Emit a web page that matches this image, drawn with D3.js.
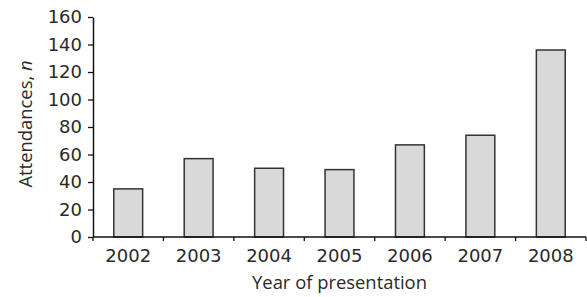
<!DOCTYPE html>
<html>
<head>
<meta charset="utf-8">
<script src="https://cdn.jsdelivr.net/npm/d3@7"></script>
<style>
  body { margin: 0; background: #fff; }
  text { font-family: 'Open Sans', sans-serif; fill: #2a2a2a; }
  .num { font-family: 'DejaVu Sans', sans-serif; }
</style>
</head>
<body>
<div id="chart"></div>
<script>
const years = ['2002', '2003', '2004', '2005', '2006', '2007', '2008'];
const attendances = [35, 57, 50, 49, 67, 74, 136];
const yTicks = [0, 20, 40, 60, 80, 100, 120, 140, 160];

const W = 587, H = 297;
const margin = { top: 17, right: 1, bottom: 60, left: 93 },
  width = W - margin.left - margin.right,
  height = H - margin.top - margin.bottom;

const svg = d3.select('#chart').append('svg')
  .attr('width', W)
  .attr('height', H);

const chart = svg.append('g')
  .attr('transform', 'translate(' + margin.left + ',' + margin.top + ')');

const x = d3.scaleBand().domain(years).range([0, width]);
const y = d3.scaleLinear().domain([0, 160]).range([height, 0]);
const barW = x.bandwidth() * 0.41;

// bars
chart.selectAll('.bar')
  .data(years)
  .enter().append('rect')
    .attr('class', 'bar')
    .attr('x', (d) => x(d) + (x.bandwidth() - barW) / 2)
    .attr('y', (d, i) => y(attendances[i]))
    .attr('width', barW)
    .attr('height', (d, i) => height - y(attendances[i]))
    .attr('fill', '#d9d9d9')
    .attr('stroke', '#333')
    .attr('stroke-width', 1.5);

// y axis
const yAxis = chart.append('g')
  .call(d3.axisLeft(y).tickValues(yTicks).tickSize(5).tickSizeOuter(0).tickPadding(6));
yAxis.select('.domain').attr('stroke', '#111').attr('stroke-width', 1.5);
yAxis.selectAll('.tick line').attr('stroke', '#111').attr('stroke-width', 1.3);
yAxis.selectAll('text')
  .attr('class', 'num')
  .style('font-size', '18px')
  .attr('fill', '#2a2a2a');

// x axis: ticks sit between the categories
const xAxis = chart.append('g')
  .attr('transform', 'translate(0,' + height + ')');
xAxis.append('line')
  .attr('x1', 0).attr('x2', width)
  .attr('stroke', '#111').attr('stroke-width', 1.5);
xAxis.selectAll('.sep')
  .data(years.concat(['end']))
  .enter().append('line')
    .attr('class', 'sep')
    .attr('x1', (d, i) => i * x.step())
    .attr('x2', (d, i) => i * x.step())
    .attr('y1', 0).attr('y2', 4)
    .attr('stroke', '#111').attr('stroke-width', 1.3);
xAxis.selectAll('.lab')
  .data(years)
  .enter().append('text')
    .attr('class', 'num')
    .attr('x', (d) => x(d) + x.bandwidth() / 2)
    .attr('y', 25)
    .attr('text-anchor', 'middle')
    .style('font-size', '18px')
    .text((d) => d);

// axis titles
svg.append('text')
  .attr('x', margin.left + width / 2)
  .attr('y', 289)
  .attr('text-anchor', 'middle')
  .style('font-size', '18.4px')
  .text('Year of presentation');

const yt = svg.append('text')
  .attr('transform', 'translate(32,124) rotate(-90)')
  .attr('text-anchor', 'middle')
  .style('font-size', '18.4px');
yt.append('tspan').text('Attendances, ');
yt.append('tspan').style('font-style', 'italic').text('n');
</script>
</body>
</html>
